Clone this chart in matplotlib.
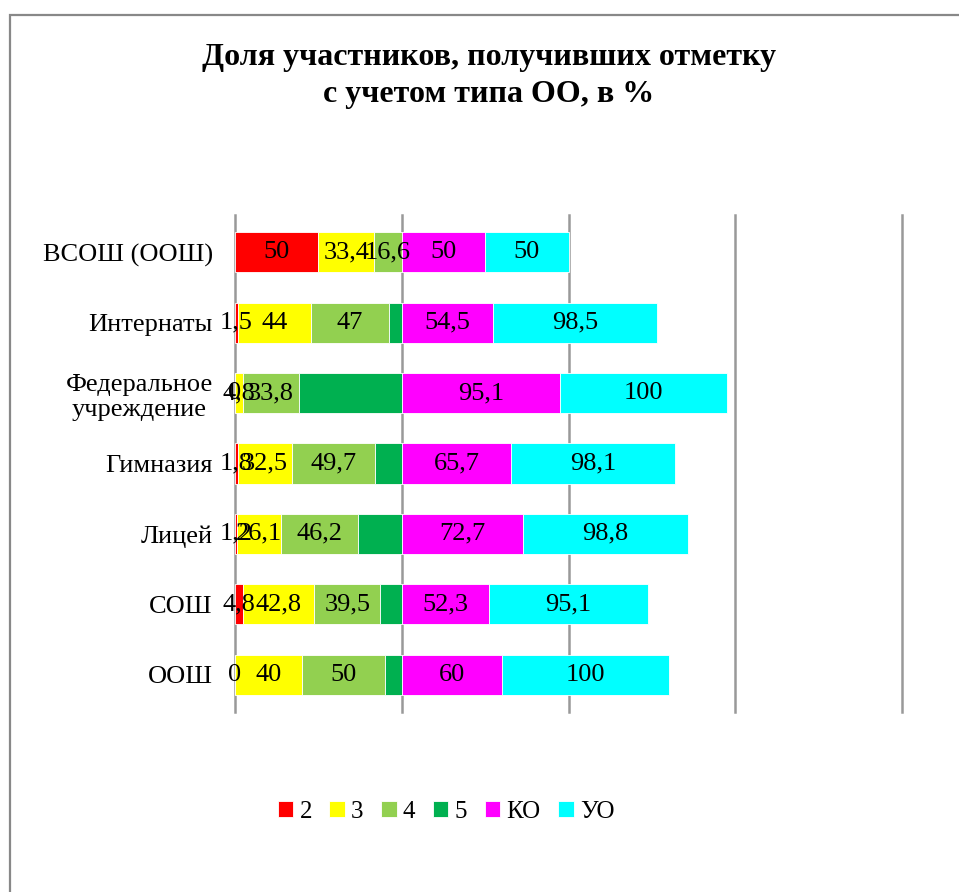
import matplotlib.pyplot as plt
from matplotlib.patches import Rectangle

plt.rcParams['font.family'] = ['Liberation Serif', 'DejaVu Serif']

categories = ['ВСОШ (ООШ)', 'Интернаты', 'Федеральное\nучреждение', 'Гимназия',
              'Лицей', 'СОШ', 'ООШ']
series_names = ['2', '3', '4', '5', 'КО', 'УО']
v2 = [50, 1.5, 0, 1.8, 1.2, 4.8, 0]
v3 = [33.4, 44, 4.8, 32.5, 26.1, 42.8, 40]
v4 = [16.6, 47, 33.8, 49.7, 46.2, 39.5, 50]
v5 = [0, 7.5, 61.4, 16, 26.5, 12.9, 10]
v_ko = [50, 54.5, 95.1, 65.7, 72.7, 52.3, 60]
v_uo = [50, 98.5, 100, 98.1, 98.8, 95.1, 100]
colors = ['#FF0000', '#FFFF00', '#92D050', '#00B050', '#FF00FF', '#00FFFF']
show_labels = [True, True, True, False, True, True]


def fmt(v):
    s = ('%.1f' % v).rstrip('0').rstrip('.')
    return s.replace('.', ',')


fig = plt.figure(figsize=(9.59, 8.92), dpi=100)
ax = fig.add_axes([235 / 959, 1 - 712 / 892, (902 - 235) / 959, (712 - 215) / 892])

y = list(range(len(categories)))[::-1]
left = [0] * len(categories)
for name, vals, col, lab in zip(series_names, [v2, v3, v4, v5, v_ko, v_uo], colors, show_labels):
    bars = ax.barh(y, vals, left=left, height=0.57, color=col, edgecolor='white',
                   linewidth=0.6, label=name, zorder=2)
    if lab:
        ax.bar_label(bars, labels=[fmt(v) for v in vals], label_type='center',
                     fontsize=19, color='black', zorder=3)
    left = [a + b for a, b in zip(left, vals)]

ax.set_xlim(0, 400)
ax.set_ylim(-0.53, 6.53)
ax.set_xticks([0, 100, 200, 300, 400])
ax.set_xticklabels([])
ax.tick_params(axis='x', length=0)
ax.grid(axis='x', color='#999999', linewidth=1.8, zorder=0)
for gl in ax.get_xgridlines():
    gl.set_clip_on(False)
ax.set_yticks(y)
ax.set_yticklabels(categories, fontsize=19, multialignment='center', linespacing=1.2)
ax.tick_params(axis='y', length=0, pad=16)
for s in ax.spines.values():
    s.set_visible(False)

fig.text(0.51, 1 - 76 / 892, 'Доля участников, получивших отметку\nс учетом типа ОО, в %',
         ha='center', va='center', fontsize=23, fontweight='bold', linespacing=1.4)

fig.legend(loc='center', bbox_to_anchor=(446 / 959, 1 - 812 / 892), ncol=6, frameon=False,
           fontsize=18, handlelength=0.62, handleheight=0.62, handletextpad=0.25,
           columnspacing=0.7)

fig.patches.append(Rectangle((10 / 959, -0.01), 1.0, 1 - 15 / 892 + 0.01,
                             transform=fig.transFigure, fill=False,
                             edgecolor='#888888', linewidth=1.6))

fig.savefig('out.png', dpi=100)
